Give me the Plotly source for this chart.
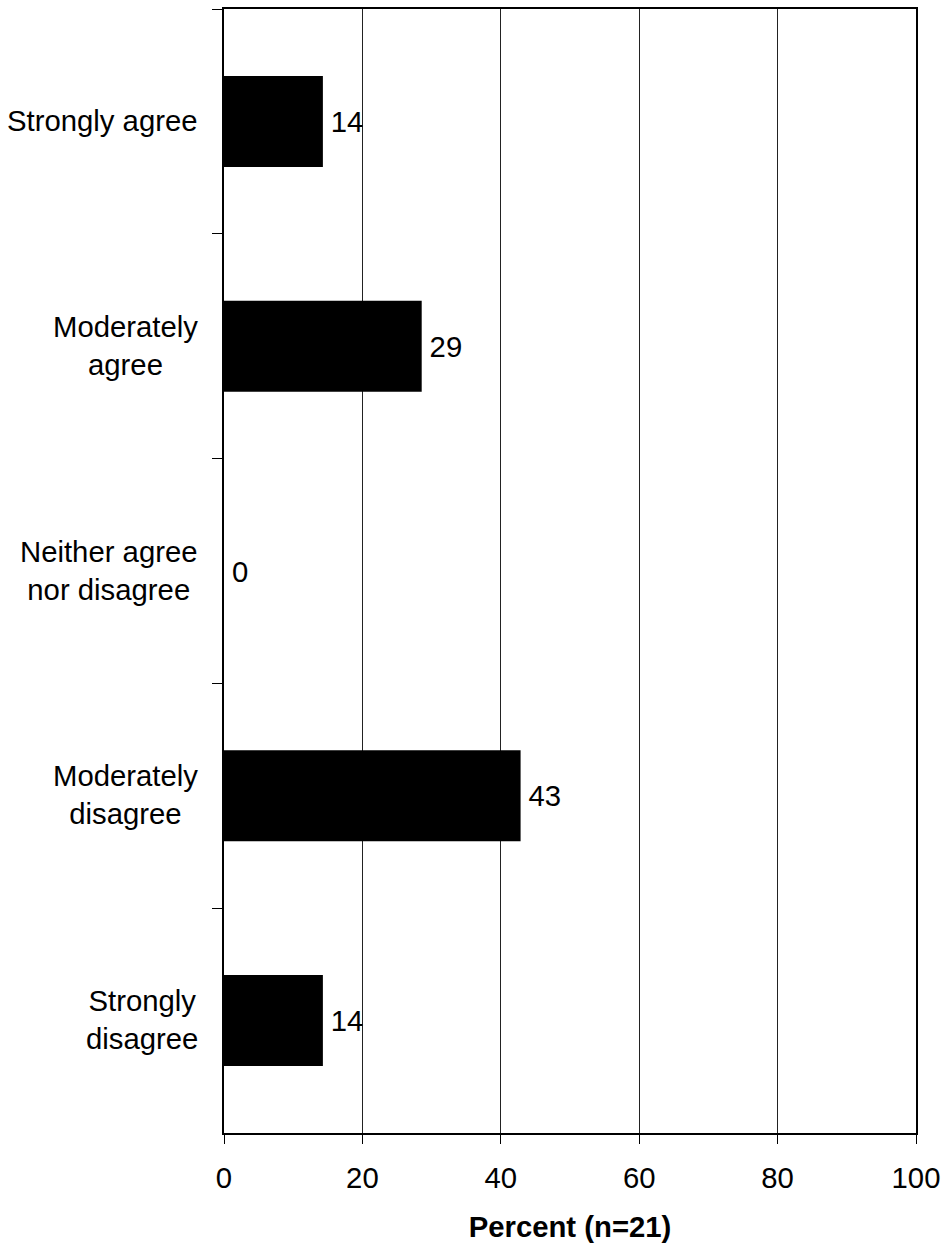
import plotly.graph_objects as go

categories = ["Strongly agree", "Moderately agree", "Neither agree nor disagree",
              "Moderately disagree", "Strongly disagree"]
label_lines = ["Strongly agree", "Moderately<br>agree", "Neither agree<br>nor disagree",
               "Moderately<br>disagree", "Strongly<br>disagree"]
percent = [14.29, 28.57, 0.0, 42.86, 14.29]
x_ticks = [0, 20, 40, 60, 80, 100]

FONT = "Liberation Sans, Arial, sans-serif"
FS = 29.3

fig = go.Figure(go.Bar(
    y=categories, x=percent, orientation="h",
    marker=dict(color="black", line=dict(width=0)),
    width=0.405,
    text=["\u200a\u200a%d" % round(v) for v in percent],
    textposition="outside", cliponaxis=False,
    textfont=dict(family=FONT, size=FS, color="black"),
))

annotations = []
for cat, lab in zip(categories, label_lines):
    annotations.append(dict(
        x=0, xref="paper", xshift=-24, xanchor="right",
        y=cat, yref="y", yanchor="middle", yshift=1,
        text=lab, showarrow=False, align="center",
        font=dict(family=FONT, size=FS, color="black"),
    ))

fig.update_layout(
    width=947, height=1245,
    margin=dict(l=224, r=30, t=7, b=110),
    paper_bgcolor="white", plot_bgcolor="white",
    showlegend=False,
    font=dict(family=FONT, size=FS, color="black"),
    annotations=annotations,
    xaxis=dict(
        range=[0, 100], tickvals=x_ticks, ticktext=[str(t) for t in x_ticks],
        showgrid=True, gridcolor="#222222", gridwidth=1,
        zeroline=False, showline=True, linecolor="black", linewidth=2,
        mirror=True, ticks="outside", ticklen=9, tickcolor="black", tickwidth=1,
        ticklabelstandoff=9,
        tickfont=dict(family=FONT, size=FS, color="black"),
        title=dict(text="<b>Percent (n=21)</b>", standoff=23,
                   font=dict(family=FONT, size=FS, color="black")),
        fixedrange=True,
    ),
    yaxis=dict(
        type="category", categoryorder="array", categoryarray=categories,
        autorange="reversed",
        showticklabels=False, showgrid=False, zeroline=False,
        showline=True, linecolor="black", linewidth=2, mirror=True,
        ticks="outside", tickson="boundaries", ticklen=10,
        tickcolor="black", tickwidth=1,
        fixedrange=True,
    ),
)

fig.write_html("out.html", config={"displayModeBar": False},
               post_script="document.body.style.margin='0px';")
